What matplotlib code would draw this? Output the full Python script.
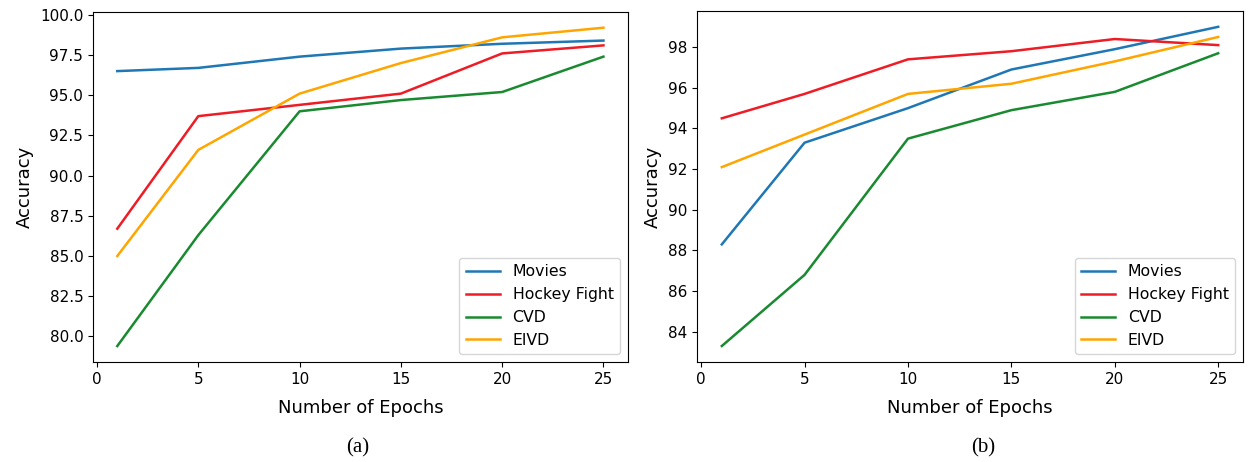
import matplotlib.pyplot as plt

# epochs on the x axis
epochs = [1, 5, 10, 15, 20, 25]
series_names = ['Movies', 'Hockey Fight', 'CVD', 'EIVD']
colors = ['#1f77b4', '#ee1c25', '#1a8a30', '#ffa500']

# (a)
a_movies = [96.5, 96.7, 97.4, 97.9, 98.2, 98.4]
a_hockey = [86.7, 93.7, 94.4, 95.1, 97.6, 98.1]
a_cvd = [79.4, 86.3, 94.0, 94.7, 95.2, 97.4]
a_eivd = [85.0, 91.6, 95.1, 97.0, 98.6, 99.2]

# (b)
b_movies = [88.3, 93.3, 95.0, 96.9, 97.9, 99.0]
b_hockey = [94.5, 95.7, 97.4, 97.8, 98.4, 98.1]
b_cvd = [83.3, 86.8, 93.5, 94.9, 95.8, 97.7]
b_eivd = [92.1, 93.7, 95.7, 96.2, 97.3, 98.5]

fig = plt.figure(figsize=(12.48, 4.62), dpi=100)
ax_a = fig.add_axes([0.0745, 0.2165, 0.4285, 0.758])
ax_b = fig.add_axes([0.5585, 0.2165, 0.4375, 0.760])

panels = [
    (ax_a, [a_movies, a_hockey, a_cvd, a_eivd], '(a)', 0.287),
    (ax_b, [b_movies, b_hockey, b_cvd, b_eivd], '(b)', 0.788),
]

for ax, data, cap, cx in panels:
    for name, vals, c in zip(series_names, data, colors):
        ax.plot(epochs, vals, color=c, lw=1.8, label=name)
    ax.set_xticks([0, 5, 10, 15, 20, 25])
    ax.tick_params(labelsize=11)
    ax.set_xlabel('Number of Epochs', fontsize=13, labelpad=9)
    ax.set_ylabel('Accuracy', fontsize=13)
    ax.legend(loc='lower right', fontsize=11.3, handlelength=2.2)
    fig.text(cx, 0.02, cap, fontsize=15, family='Liberation Serif', ha='center')

plt.savefig('out.png', dpi=100)
